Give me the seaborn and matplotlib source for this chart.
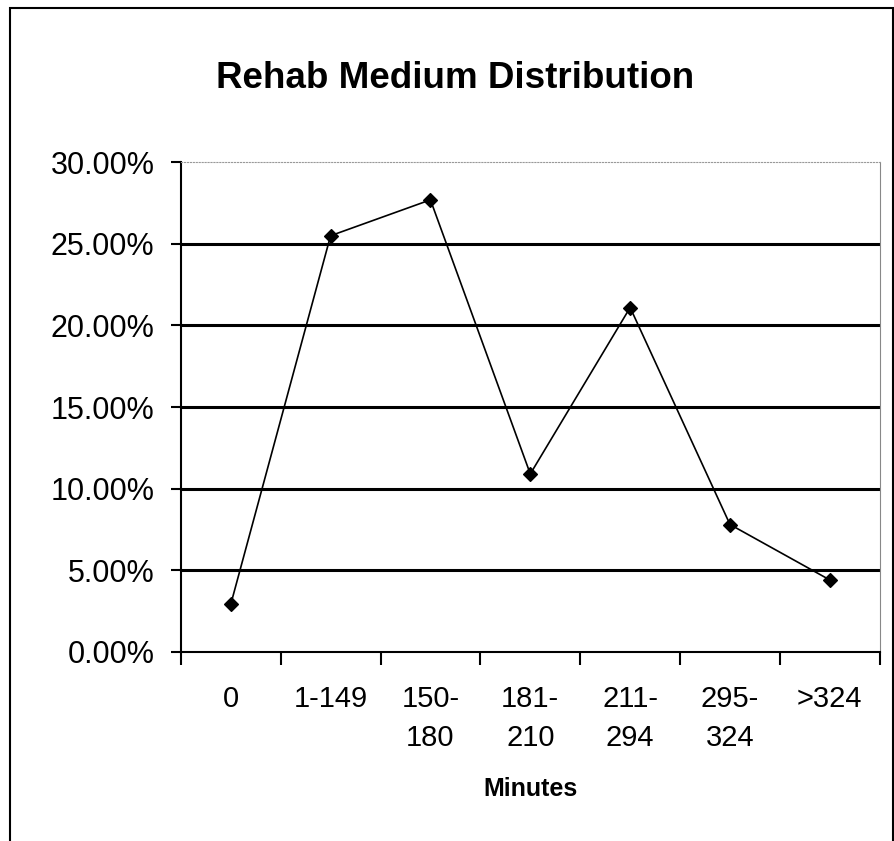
import matplotlib
matplotlib.use("Agg")
import matplotlib.pyplot as plt
import seaborn as sns
from matplotlib.patches import Rectangle
from matplotlib.ticker import FixedLocator, FuncFormatter

# Data
categories = ["0", "1-149", "150-\n180", "181-\n210", "211-\n294", "295-\n324", ">324"]
shares = [2.9, 25.5, 27.7, 10.9, 21.1, 7.8, 4.4]

sns.set_style("white")
plt.rcParams["font.family"] = ["Liberation Sans", "DejaVu Sans"]
plt.rcParams["text.color"] = "black"
plt.rcParams["xtick.color"] = "black"
plt.rcParams["ytick.color"] = "black"
plt.rcParams["axes.labelcolor"] = "black"

fig = plt.figure(figsize=(8.95, 8.41), dpi=100)
ax = fig.add_axes([0.202, 0.225, 0.781, 0.582])

sns.pointplot(x=categories, y=shares, color="black", markers="D",
              markersize=7, linewidth=1.2, ax=ax)

ax.set_ylim(0, 30)
ax.set_xlim(-0.5, 6.5)
ax.set_yticks([0, 5, 10, 15, 20, 25, 30])
ax.yaxis.set_major_formatter(FuncFormatter(lambda v, p: f"{v:.2f}%"))
for y in [5, 10, 15, 20, 25]:
    ax.axhline(y, color="black", linewidth=2.2, zorder=0)

# ticks at category boundaries, labels at centres
ax.xaxis.set_minor_locator(FixedLocator([i - 0.5 for i in range(8)]))
ax.tick_params(axis="x", which="major", bottom=True, length=0, pad=24, labelsize=21)
ax.tick_params(axis="x", which="minor", bottom=True, length=9, width=1.5,
               direction="out", color="black")
ax.tick_params(axis="y", which="major", left=True, length=7, width=1.5,
               direction="out", color="black", labelsize=22, pad=12)
for lbl in ax.get_xticklabels():
    lbl.set_linespacing(1.5)

for side in ["left", "bottom"]:
    ax.spines[side].set_color("black")
    ax.spines[side].set_linewidth(1.5)
ax.spines["top"].set_color("#999999")
ax.spines["top"].set_linestyle(":")
ax.spines["right"].set_color("#888888")

ax.set_xlabel("Minutes", fontsize=18, fontweight="bold", labelpad=18)
ax.set_ylabel("")
fig.text(0.508, 0.895, "Rehab Medium Distribution", ha="center", va="baseline",
         fontsize=26.5, fontweight="bold")

# outer chart frame
fig.patches.append(Rectangle((0.011, -0.05), 0.987, 1.04, transform=fig.transFigure,
                             fill=False, edgecolor="black", linewidth=1.5))

fig.savefig("out.png", dpi=100)
